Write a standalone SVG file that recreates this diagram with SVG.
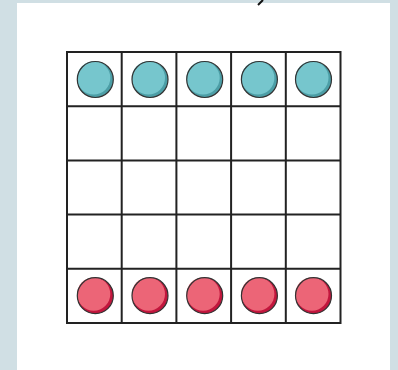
<svg xmlns="http://www.w3.org/2000/svg" width="398" height="370" viewBox="0 0 398 370">
<defs>
<style>
.grid{stroke:#222;stroke-width:2;fill:none}
.tb{fill:#4c9ea6}.tf{fill:#76c6cd}
.rb{fill:#c2163d}.rf{fill:#ec6577}
.ol{fill:none;stroke:#333;stroke-width:1.2}
</style>
<g id="tc"><circle r="18" class="tb"/><circle cx="-1.6" cy="-1.6" r="16.6" class="tf"/><circle r="18" class="ol"/></g>
<g id="rc"><circle r="18" class="rb"/><circle cx="-1.6" cy="-1.6" r="16.6" class="rf"/><circle r="18" class="ol"/></g>
</defs>
<rect width="398" height="370" fill="#d0dfe4"/>
<rect x="17" y="3" width="373" height="367" fill="#fff"/>
<path d="M263,0 L258,5" stroke="#111" stroke-width="2"/>
<g id="board" class="grid">
<rect x="67" y="52" width="273.5" height="271"/>
<path d="M121.7,52V323M176.4,52V323M231.1,52V323M285.8,52V323M67,106.2H340.5M67,160.4H340.5M67,214.6H340.5M67,268.8H340.5"/>
</g>
<g id="top-pieces">
<use href="#tc" x="95.3" y="79.5"/>
<use href="#tc" x="150" y="79.5"/>
<use href="#tc" x="204.7" y="79.5"/>
<use href="#tc" x="259.4" y="79.5"/>
<use href="#tc" x="313.5" y="79.5"/>
</g>
<g id="bottom-pieces">
<use href="#rc" x="95.3" y="295.7"/>
<use href="#rc" x="150" y="295.7"/>
<use href="#rc" x="204.7" y="295.7"/>
<use href="#rc" x="259.4" y="295.7"/>
<use href="#rc" x="313.5" y="295.7"/>
</g>
</svg>
